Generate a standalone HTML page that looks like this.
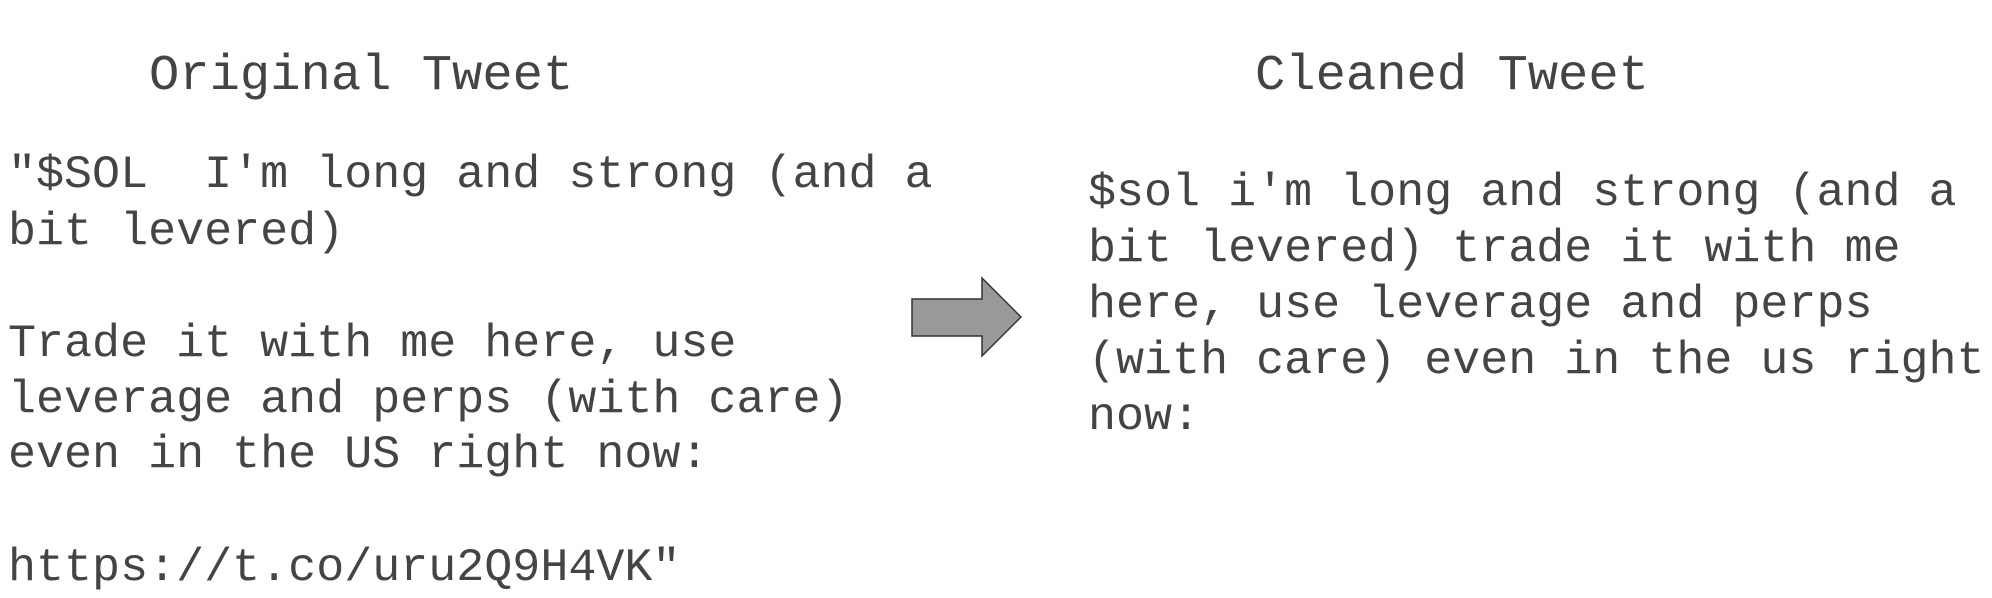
<!DOCTYPE html>
<html><head><style>
body{margin:0;width:1992px;height:598px;background:#fff;position:relative;overflow:hidden;font-family:"Liberation Mono",monospace;color:#444;}
.l{position:absolute;white-space:pre;font-size:46.7px;line-height:56px;height:56px;}
.t{position:absolute;white-space:pre;font-size:50.5px;line-height:60px;}
</style></head><body>
<div class="t" style="left:149px;top:47px">Original Tweet</div>
<div class="t" style="left:1255px;top:47px">Cleaned Tweet</div>
<div class="l" style="left:8px;top:148px">"$SOL  I'm long and strong (and a</div>
<div class="l" style="left:8px;top:205px">bit levered)</div>
<div class="l" style="left:8px;top:317px">Trade it with me here, use</div>
<div class="l" style="left:8px;top:373px">leverage and perps (with care)</div>
<div class="l" style="left:8px;top:428px">even in the US right now:</div>
<div class="l" style="left:8px;top:541px">https://t.co/uru2Q9H4VK"</div>
<div class="l" style="left:1088px;top:166px">$sol i'm long and strong (and a</div>
<div class="l" style="left:1088px;top:222px">bit levered) trade it with me</div>
<div class="l" style="left:1088px;top:278px">here, use leverage and perps</div>
<div class="l" style="left:1088px;top:334px">(with care) even in the us right</div>
<div class="l" style="left:1088px;top:390px">now:</div>
<svg style="position:absolute;left:0;top:0" width="1992" height="598">
<polygon points="912,299 982,299 982,278 1021,317 982,356 982,336 912,336" fill="#999" stroke="#333" stroke-width="1.5"/>
</svg>
</body></html>
